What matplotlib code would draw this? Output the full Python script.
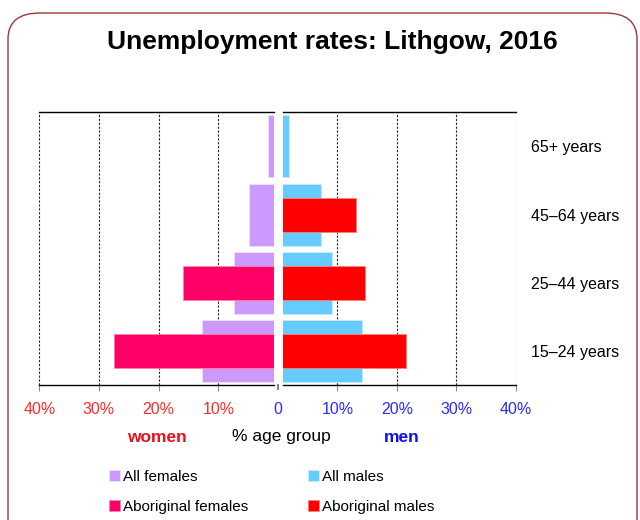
import matplotlib.pyplot as plt
from matplotlib.patches import FancyBboxPatch
from matplotlib.transforms import blended_transform_factory

plt.rcParams['font.family'] = ['Liberation Sans', 'DejaVu Sans']

age_groups = ['15–24 years', '25–44 years', '45–64 years', '65+ years']
all_females = [12.7, 7.3, 4.9, 1.7]
aboriginal_females = [27.4, 15.9, 0, 0]
all_males = [14.1, 9.0, 7.3, 1.9]
aboriginal_males = [21.5, 14.7, 13.1, 0]
ticks = [10, 20, 30, 40]
tick_labels = ['10%', '20%', '30%', '40%']

c_all_f = '#CC99FF'
c_abo_f = '#FF0066'
c_all_m = '#66CCFF'
c_abo_m = '#FF0000'
red_txt = '#FF2A2A'
blue_txt = '#2A2AFF'
gap = 0.7  # small white gap either side of zero
tick_len, tick_pad = 4, 8

fig = plt.figure(figsize=(6.4, 5.2), dpi=100)

# rounded frame
frame = FancyBboxPatch((8 / 640, -0.2), 629 / 640, 1.2 - 13 / 520,
                       boxstyle='round,pad=0,rounding_size=0.05',
                       transform=fig.transFigure, fill=False,
                       edgecolor='#A0353A', linewidth=1.0)
fig.patches.append(frame)

fig.text(332 / 640, 1 - 42 / 520, 'Unemployment rates: Lithgow, 2016',
         ha='center', va='center', fontsize=19, fontweight='bold')

ax_l = fig.add_axes([39.3 / 640, 0.259, 234.7 / 640, 0.525])
ax_r = fig.add_axes([282.7 / 640, 0.259, 233.3 / 640, 0.525])

y = list(range(len(age_groups)))

h_all_f = ax_l.barh(y, all_females, height=0.91, color=c_all_f,
                    edgecolor='#F0E0FF', linewidth=0.6, label='All females')
h_abo_f = ax_l.barh(y, aboriginal_females, height=0.5, color=c_abo_f,
                    edgecolor='#FF80B0', linewidth=0.6, label='Aboriginal females')
h_all_m = ax_r.barh(y, all_males, height=0.91, color=c_all_m,
                    edgecolor='#C8ECFF', linewidth=0.6, label='All males')
h_abo_m = ax_r.barh(y, aboriginal_males, height=0.5, color=c_abo_m,
                    edgecolor='#FF8080', linewidth=0.6, label='Aboriginal males')

ax_l.set_xlim(40, gap - 0.03)
ax_r.set_xlim(gap + 0.09, 40)

for ax, col in ((ax_l, red_txt), (ax_r, blue_txt)):
    ax.set_ylim(-0.5, 3.5)
    ax.set_xticks(ticks)
    ax.set_xticklabels(tick_labels, color=col, fontsize=11.5)
    ax.tick_params(axis='x', length=tick_len, color='#888888', pad=tick_pad)
    ax.set_axisbelow(True)
    ax.grid(axis='x', color='#222222', linestyle=(0, (2, 1.5)), linewidth=0.8)
    ax.spines['left'].set_visible(False)
    ax.spines['right'].set_visible(False)
    for s in ('top', 'bottom'):
        ax.spines[s].set_color('black')
        ax.spines[s].set_linewidth(1.0)

ax_l.set_yticks([])
ax_r.yaxis.tick_right()
ax_r.set_yticks(y)
ax_r.set_yticklabels(age_groups, fontsize=11.5)
ax_r.tick_params(axis='y', length=0, pad=11)

# zero tick and label sitting in the gap
tr = blended_transform_factory(ax_r.transData, ax_r.transAxes)
ax_r.plot([0, 0], [0, -0.015], transform=tr, color='#888888',
          linewidth=1.5, clip_on=False)
ax_r.annotate('0', xy=(0, 0), xycoords=tr, xytext=(0, -(tick_len + tick_pad)),
              textcoords='offset points', ha='center', va='top',
              color=blue_txt, fontsize=11.5, annotation_clip=False)

fig.text(157 / 640, 1 - 437 / 520, 'women', ha='center', va='center',
         color='#E8101A', fontsize=12.5, fontweight='bold')
fig.text(281 / 640, 1 - 437 / 520, '% age group', ha='center', va='center',
         fontsize=12.5)
fig.text(402 / 640, 1 - 437 / 520, 'men', ha='center', va='center',
         color='#1010E8', fontsize=12.5, fontweight='bold')

fig.legend(handles=[h_all_f, h_abo_f, h_all_m, h_abo_m],
           labels=['All females', 'Aboriginal females', 'All males', 'Aboriginal males'],
           ncol=2, loc='upper left', bbox_to_anchor=(109 / 640, 1 - 470 / 520),
           frameon=False, fontsize=11, handlelength=0.7, handleheight=0.7,
           handletextpad=0.2, labelspacing=1.05, columnspacing=3.95,
           borderpad=0, borderaxespad=0)

fig.savefig('out.png', dpi=100)
